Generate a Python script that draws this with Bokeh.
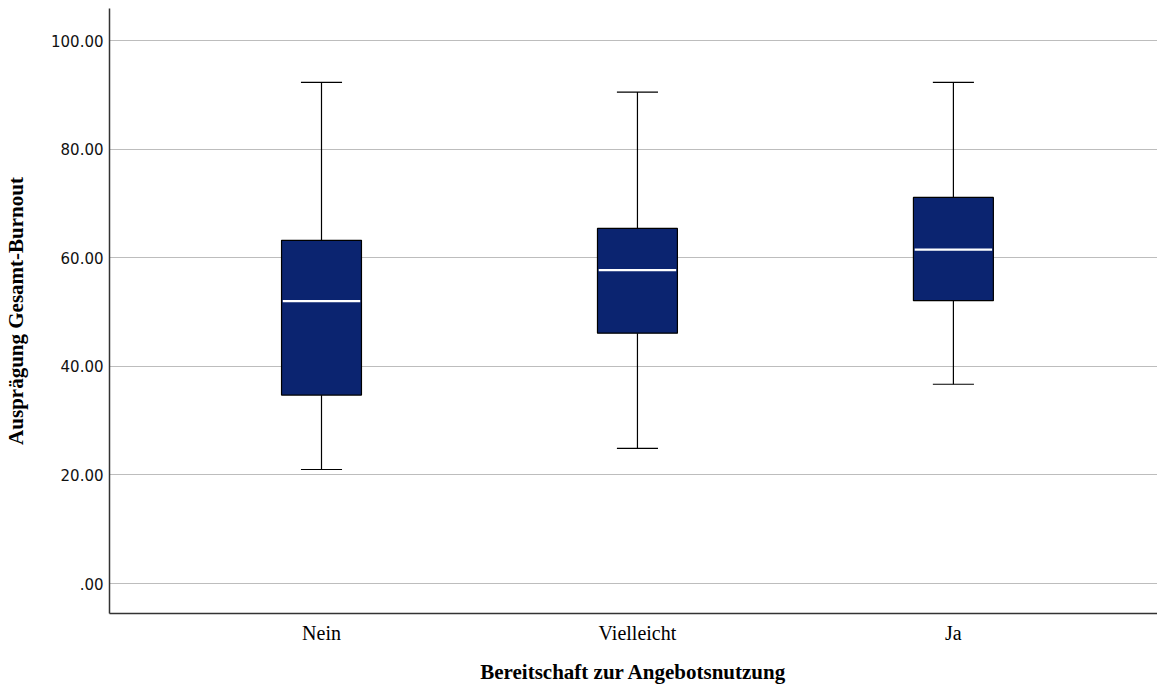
from bokeh.plotting import figure
from bokeh.models import FixedTicker, ColumnDataSource
from bokeh.embed import file_html
from bokeh.resources import INLINE

categories = ["Nein", "Vielleicht", "Ja"]
whisker_low = [21.0, 24.9, 36.7]
q1 = [34.7, 46.1, 52.1]
median = [52.0, 57.7, 61.5]
q3 = [63.2, 65.4, 71.1]
whisker_high = [92.3, 90.5, 92.3]
y_ticks = [0, 20, 40, 60, 80, 100]
y_tick_labels = [".00", "20.00", "40.00", "60.00", "80.00", "100.00"]

xs = [i + 1 for i in range(len(categories))]
box_w = 0.253
cap_w = 0.13

src = ColumnDataSource(dict(x=xs, lo=whisker_low, q1=q1, med=median, q3=q3, hi=whisker_high))

p = figure(width=1157, height=686, output_backend="svg", toolbar_location=None,
           x_range=(0.329, 3.646), y_range=(-5.52, 105.9),
           min_border_left=109, min_border_right=0, min_border_top=8, min_border_bottom=73)
p.outline_line_color = None
p.background_fill_color = "white"

# whiskers
p.segment(x0="x", y0="q3", x1="x", y1="hi", source=src, line_color="black", line_width=1.2)
p.segment(x0="x", y0="lo", x1="x", y1="q1", source=src, line_color="black", line_width=1.2)
src_caps = ColumnDataSource(dict(
    x0=[x - cap_w / 2 for x in xs] * 2,
    x1=[x + cap_w / 2 for x in xs] * 2,
    y=whisker_low + whisker_high))
p.segment(x0="x0", y0="y", x1="x1", y1="y", source=src_caps, line_color="black", line_width=1.2)

# boxes
p.vbar(x="x", bottom="q1", top="q3", width=box_w, source=src,
       fill_color="#0b2470", line_color="black", line_width=1.2)
# medians
src_med = ColumnDataSource(dict(x0=[x - box_w / 2 + 0.004 for x in xs],
                                x1=[x + box_w / 2 - 0.004 for x in xs], y=median))
p.segment(x0="x0", y0="y", x1="x1", y1="y", source=src_med, line_color="white", line_width=2.2)

# axes
p.xaxis.ticker = FixedTicker(ticks=xs)
p.xaxis.major_label_overrides = {x: c for x, c in zip(xs, categories)}
p.yaxis.ticker = FixedTicker(ticks=y_ticks)
p.yaxis.major_label_overrides = {t: l for t, l in zip(y_ticks, y_tick_labels)}

for ax in (p.xaxis[0], p.yaxis[0]):
    ax.major_tick_line_color = None
    ax.minor_tick_line_color = None
    ax.axis_line_color = "#333333"
    ax.axis_line_width = 1.5
    ax.major_tick_out = 0
    ax.major_tick_in = 0

p.xaxis.major_label_text_font = "Liberation Serif"
p.xaxis.major_label_text_font_size = "20px"
p.xaxis.major_label_text_color = "black"
p.xaxis.major_label_standoff = 8
p.xaxis.axis_label = "Bereitschaft zur Angebotsnutzung"
p.xaxis.axis_label_text_font = "Liberation Serif"
p.xaxis.axis_label_text_font_style = "bold"
p.xaxis.axis_label_text_font_size = "21px"
p.xaxis.axis_label_text_color = "black"
p.xaxis.axis_label_standoff = 13

p.yaxis.major_label_text_font = "DejaVu Sans"
p.yaxis.major_label_text_font_size = "15px"
p.yaxis.major_label_text_color = "#111111"
p.yaxis.major_label_standoff = 6
p.yaxis.axis_label = "Ausprägung Gesamt-Burnout"
p.yaxis.axis_label_text_font = "Liberation Serif"
p.yaxis.axis_label_text_font_style = "bold"
p.yaxis.axis_label_text_font_size = "21px"
p.yaxis.axis_label_text_color = "black"
p.yaxis.axis_label_standoff = 20

p.xgrid.grid_line_color = None
p.ygrid.grid_line_color = "#bdbdbd"
p.ygrid.grid_line_width = 1.2

open("out.html", "w").write(file_html(p, INLINE))
